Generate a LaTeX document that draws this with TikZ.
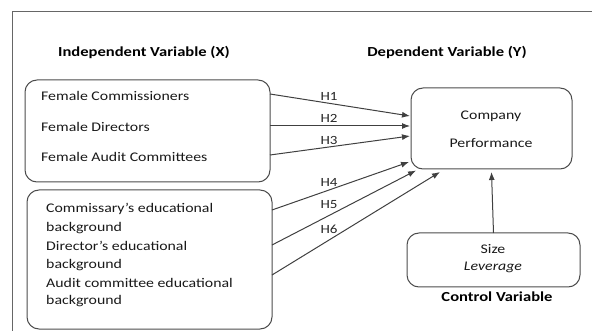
\documentclass[tikz,border=0pt]{standalone}
\usepackage{fontspec}
\setmainfont{Carlito}[FakeStretch=1.2]
\usetikzlibrary{arrows.meta}

\begin{document}
\begin{tikzpicture}[x=1pt,y=-1pt,
  var box/.style={draw=black!70,rounded corners=12pt,line width=1pt,inner sep=0pt,outer sep=0pt},
  item/.style={anchor=west,inner sep=0pt,font=\fontsize{13.2}{15}\selectfont,text=black!90},
  head/.style={inner sep=0pt,font=\fontsize{13.8}{15}\selectfont\bfseries},
  hyp/.style={-{Latex[length=8pt,width=6pt]},line width=1pt,draw=black!75},
  hlabel/.style={inner sep=0pt,font=\fontsize{12.5}{14}\selectfont,text=black!85}]

\useasboundingbox (0,0) rectangle (592,331);
\draw[black!60,line width=1pt] (12,331) -- (12,12) -- (592,12);

% headings
\node[head] (indep) at (144,52) {Independent Variable (X)};
\node[head] (dep) at (447,52) {Dependent Variable (Y)};

% boxes
\node[var box,minimum width=245pt,minimum height=102pt] (fem) at (147.5,131) {};
\node[var box,minimum width=245pt,minimum height=139pt] (edu) at (149.5,259.5) {};
\node[var box,minimum width=161pt,minimum height=81pt] (perf) at (491.5,128.5) {};
\node[var box,minimum width=173pt,minimum height=54pt] (ctrl) at (493.5,260) {};

% texts
\node[item] (f1) at (41,96) {Female Commissioners};
\node[item] (f2) at (41,127) {Female Directors};
\node[item] (f3) at (41,157) {Female Audit Committees};

\node[item] (e1) at (46,209) {Commissary’s educational};
\node[item] (e2) at (46,228) {background};
\node[item] (e3) at (46,246) {Director’s educational};
\node[item] (e4) at (46,265) {background};
\node[item] (e5) at (46,283) {Audit committee educational};
\node[item] (e6) at (46,301) {background};

\node[item,anchor=center] (p1) at (491,116) {Company};
\node[item,anchor=center] (p2) at (491,143) {Performance};

\node[item,anchor=center] (c1) at (493,249) {Size};
\node[item,anchor=center] (c2) at (493,267) {\itshape Leverage};
\node[head] (cvar) at (497,297) {Control Variable};

% end points
\coordinate (s1) at (270,94);
\coordinate (s2) at (270,126);
\coordinate (s3) at (270,155);
\coordinate (s4) at (272,210);
\coordinate (s5) at (272,245);
\coordinate (s6) at (272,275);
\coordinate (t1) at (410,116);
\coordinate (t2) at (410,126);
\coordinate (t3) at (410,136);
\coordinate (t4) at (409,162);
\coordinate (t5) at (416,170.5);
\coordinate (t6) at (440,172);

\draw[hyp] (s1) -- (t1);
\draw[hyp] (s2) -- (t2);
\draw[hyp] (s3) -- (t3);
\draw[hyp] (s4) -- (t4);
\draw[hyp] (s5) -- (t5);
\draw[hyp] (s6) -- (t6);
\draw[hyp] (ctrl.north) -- ([yshift=-3pt]perf.south);

\node[hlabel] (h1) at (329,96) {H1};
\node[hlabel] (h2) at (329,118) {H2};
\node[hlabel] (h3) at (329,140) {H3};
\node[hlabel] (h4) at (329,182) {H4};
\node[hlabel] (h5) at (329,205) {H5};
\node[hlabel] (h6) at (329,229) {H6};
\end{tikzpicture}
\end{document}
